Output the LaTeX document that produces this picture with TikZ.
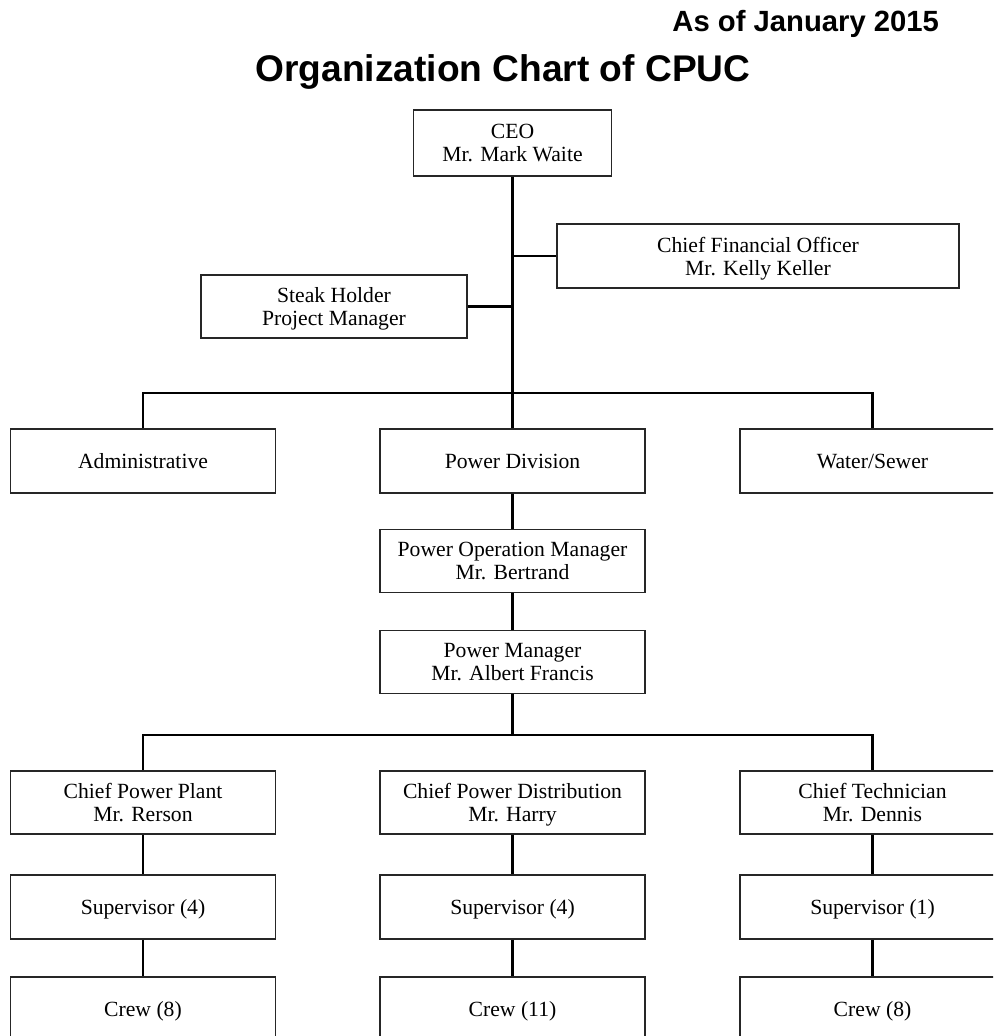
\documentclass[tikz,border=0pt]{standalone}
\usepackage{fontspec}
\setmainfont{Liberation Serif}
\newfontfamily\titlefont{Liberation Sans}
\begin{document}
\begin{tikzpicture}[x=0.025cm, y=-0.025cm,
  box/.style={draw=black!85, line width=1.1pt, fill=white, align=center, inner sep=0pt,
    minimum width=6.625cm, minimum height=1.6cm, font=\fontsize{15.4}{16.5}\selectfont,
    text depth=0pt},
  link/.style={black, line width=1.6pt}]
\useasboundingbox (0,0) rectangle (993,1036);
\clip (0,0) rectangle (993,1036);
\node[anchor=base east, font=\titlefont\bfseries\fontsize{20.8}{24}\selectfont] (date) at (944,32) {As of January 2015};
\node[anchor=base, font=\titlefont\bfseries\fontsize{26.4}{30}\selectfont] (title) at (503,82) {Organization Chart of CPUC};
\node[box, minimum width=4.95cm, minimum height=1.65cm] (ceo) at (512.5,143) {CEO\\Mr. Mark Waite};
\node[box, minimum width=10.05cm] (cfo) at (758,256) {Chief Financial Officer\\Mr. Kelly Keller};
\node[box, minimum width=6.65cm, minimum height=1.575cm] (stake) at (334,306.5) {Steak Holder\\Project Manager};
\node[box] (admin) at (143,461) {Administrative};
\node[box] (power) at (512.5,461) {Power Division};
\node[box] (water) at (872.5,461) {Water/Sewer};
\node[box, minimum height=1.575cm] (pom) at (512.5,561) {Power Operation Manager\\Mr. Bertrand};
\node[box, minimum height=1.575cm] (pm) at (512.5,662) {Power Manager\\Mr. Albert Francis};
\coordinate (bar) at (0,393);
\coordinate (bar2) at (0,735);
\draw[link] (ceo.south) -- (ceo.south |- bar);
\draw[link] (cfo.west) -- (cfo.west -| ceo.south);
\draw[link] (stake.east) -- (stake.east -| ceo.south);
\draw[link] (admin.north) |- (ceo.south |- bar) -| (water.north);
\draw[link] (ceo.south |- bar) -- (power.north);
\draw[link] (power) -- (pom);
\draw[link] (pom) -- (pm);
\draw[link] (pm.south) -- (pm.south |- bar2);
\foreach \n/\x/\a/\b/\s/\c in {plant/143/Chief Power Plant/Mr. Rerson/4/8,
    dist/512.5/Chief Power Distribution/Mr. Harry/4/11,
    tech/872.5/Chief Technician/Mr. Dennis/1/8} {
  \node[box, minimum height=1.575cm] (\n) at (\x,802.5) {\a\\\b};
  \node[box] (sup\n) at (\x,907) {Supervisor (\s)};
  \node[box] (crew\n) at (\x,1009) {Crew (\c)};
  \draw[link] (\n) -- (sup\n);
  \draw[link] (sup\n) -- (crew\n);
}
\draw[link] (plant.north) |- (pm.south |- bar2) -| (tech.north);
\end{tikzpicture}
\end{document}
